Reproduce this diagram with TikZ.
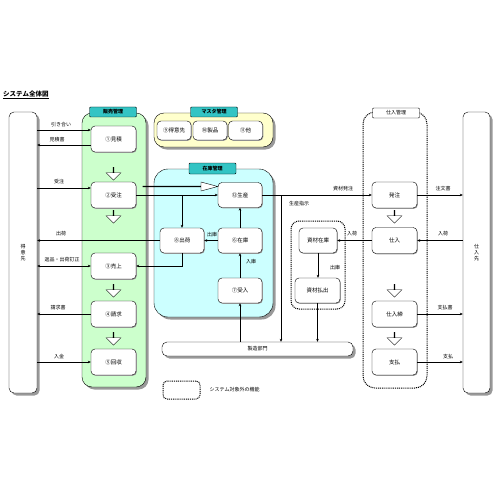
\documentclass[tikz,border=0pt]{standalone}
\usepackage{fontspec}
\setmainfont{Noto Sans CJK JP}
\usetikzlibrary{arrows.meta, shapes.arrows, shadows}
\definecolor{salesgreen}{HTML}{CCFFCC}
\definecolor{stockcyan}{HTML}{CCFFFF}
\definecolor{masteryellow}{HTML}{FFFFCC}
\definecolor{tabteal}{HTML}{33C4C4}

\begin{document}
\begin{tikzpicture}[
  x=1pt, y=-1pt,
  >={Stealth[length=3pt, width=2.6pt]},
  every node/.style={inner sep=1pt, font=\fontsize{5.5}{6.5}\selectfont},
  shade/.style={drop shadow={shadow xshift=#1, shadow yshift=-#1, fill=black!40, opacity=1}},
  grp/.style={draw, rounded corners=10pt, shade=2.5pt},
  outside/.style={draw, rounded corners=8pt, line width=1pt, dash pattern=on 1pt off 0.9pt},
  tab/.style={draw, fill=tabteal, rounded corners=1pt, minimum width=47pt, minimum height=10pt,
              inner sep=0pt, font=\bfseries\fontsize{5}{6}\selectfont},
  proc/.style={draw, fill=white, rounded corners=4pt, minimum width=45pt, minimum height=26pt,
               inner sep=0pt, shade=0.8pt},
  small/.style={proc, minimum width=34pt, minimum height=19pt},
  bar/.style={draw, fill=white, rounded corners=5pt, minimum width=28pt, minimum height=281pt,
              align=center, font=\fontsize{5}{6}\selectfont, shade=2.5pt},
  downarrow/.style={single arrow, draw, fill=white, rotate=-90, minimum height=13pt,
                    minimum width=15pt, single arrow head extend=3.5pt, inner sep=0pt},
  flow/.style={draw, line width=0.5pt, ->},
  lbl/.style={inner sep=0.5pt, font=\fontsize{5}{6}\selectfont}]

  \useasboundingbox (0,0) rectangle (500,500);

  % ---- title --------------------------------------------------------------
  \node[anchor=west, font=\bfseries\fontsize{6.5}{7.5}\selectfont] (title) at (2,95)
    {\underline{システム全体図}};

  % ---- groups -------------------------------------------------------------
  \node[grp, fill=salesgreen, minimum width=64pt, minimum height=274pt] (hanbai) at (114,250) {};
  \node[grp, fill=masteryellow, minimum width=119pt, minimum height=34pt] (masta) at (213.5,130) {};
  \node[grp, fill=stockcyan, rounded corners=14pt, minimum width=119pt, minimum height=148pt] (zaikokanri) at (213.5,243) {};
  \node[outside, rounded corners=12pt, minimum width=64pt, minimum height=276pt] (shiirekanri) at (395,250) {};
  \node[outside, minimum width=54pt, minimum height=88pt] (shizai) at (318,265) {};

  % group tabs
  \node[tab] (tHanbai) at (113,112)   {販売管理};
  \node[tab] (tMasta)  at (214,112)   {マスタ管理};
  \node[tab, minimum height=11pt] (tZaiko) at (212.5,168.5) {在庫管理};
  \node[tab, fill=white, font=\fontsize{5}{6}\selectfont] (tShiire) at (396,113) {仕入管理};

  % ---- outer parties ------------------------------------------------------
  \node[bar] (tokui)      at (23,252.5)  {得\\意\\先};
  \node[bar, minimum width=27pt] (shiiresaki) at (476.5,252.5) {仕\\入\\先};
  \node[bar, minimum width=191pt, minimum height=14pt] (seizo) at (257.5,349) {製造部門};

  % ---- 販売管理 -------------------------------------------------------------
  \node[proc] (mitsu)  at (113.5,139) {①見積};
  \node[proc] (juchu)  at (113.5,195) {②受注};
  \node[proc] (uriage) at (113.5,266) {③売上};
  \node[proc] (seikyu) at (113.5,314) {④請求};
  \node[proc] (kaishu) at (113.5,362) {⑤回収};
  \node[downarrow] (d1) at (113.5,173.5) {};
  \node[downarrow] (d2) at (113.5,216.5) {};
  \node[downarrow] (d3) at (113.5,290.5) {};
  \node[downarrow] (d4) at (113.5,338.5) {};

  % ---- マスタ管理 -----------------------------------------------------------
  \node[small] (mTokui)  at (174,130.5)   {⑨得意先};
  \node[small] (mSeihin) at (210,130.5)   {⑩製品};
  \node[small] (mHoka)   at (245.5,130.5) {⑪他};

  % ---- 在庫管理 -------------------------------------------------------------
  \node[proc, minimum width=44pt, minimum height=25pt] (seisan) at (240,195)   {⑫生産};
  \node[proc, minimum width=44pt, minimum height=25pt] (zaiko)  at (240,240.5) {⑥在庫};
  \node[proc, minimum width=44pt, minimum height=25pt] (shukka) at (182,240.5) {⑧出荷};
  \node[proc, minimum width=44pt, minimum height=25pt] (ukeire) at (240,290.5) {⑦受入};

  % hollow arrow from 受注 into 生産
  \node[single arrow, draw, fill=white, minimum height=75pt, minimum width=9pt,
        single arrow head extend=2pt, single arrow tip angle=30, inner sep=0pt] (big) at (179.5,186.5) {};

  % ---- 資材 ---------------------------------------------------------------
  \node[proc, minimum width=38pt, minimum height=25pt] (shizaizaiko) at (318,240.5)   {資材在庫};
  \node[proc, minimum height=25pt]                     (haraidashi)  at (317.5,290.5) {資材払出};

  % ---- 仕入管理 -------------------------------------------------------------
  \node[proc] (hatchu)   at (394.5,195)   {発注};
  \node[proc] (shiire)   at (394.5,240.5) {仕入};
  \node[proc] (shimebi)  at (394.5,314)   {仕入締};
  \node[proc] (shiharai) at (394.5,362)   {支払};
  \node[downarrow] (d5) at (394.5,216.5) {};
  \node[downarrow] (d6) at (394.5,290.5) {};
  \node[downarrow] (d7) at (394.5,338.5) {};

  % ---- connectors ---------------------------------------------------------
  % 得意先 side
  \draw[flow] ([yshift=9pt]tokui.east |- mitsu.west) -- ([yshift=9pt]mitsu.west);
  \draw[flow] ([yshift=-6pt]mitsu.west) -- ([yshift=-6pt]tokui.east |- mitsu.west);
  \draw[flow] ([yshift=7pt]tokui.east |- juchu.west) -- ([yshift=7pt]juchu.west);
  \draw[flow] (shukka.west) -- (tokui.east |- shukka.west);
  \draw[flow, <->] (tokui.east |- uriage.west) -- (uriage.west);
  \draw[flow] (seikyu.west) -- (tokui.east |- seikyu.west);
  \draw[flow] (tokui.east |- kaishu.west) -- (kaishu.west);
  % 受注 / 在庫
  \draw[flow] (juchu.east) -- (seisan.west);
  \draw[flow] (shukka.north |- juchu.east) -- (shukka.north);
  \draw[flow] (shukka.south) |- (uriage.east);
  \draw[flow] (zaiko.west) -- (shukka.east);
  \draw[flow] (zaiko.north) -- (seisan.south);
  \draw[flow] (ukeire.north) -- (zaiko.south);
  \draw[flow] (seizo.north -| ukeire.south) -- (ukeire.south);
  % 生産 / 仕入
  \coordinate (shiji) at (281,0);
  \draw[flow] (seisan.east) -- (hatchu.west);
  \draw[flow] (seisan.east -| shiji) -- (shiji |- seizo.north);
  \draw[flow] (hatchu.east) -- (shiiresaki.west |- hatchu.east);
  \draw[flow] (shiiresaki.west |- shiire.east) -- (shiire.east);
  \draw[flow] (shiire.west) -- (shizaizaiko.east);
  \draw[flow] (shizaizaiko.south) -- (haraidashi.north -| shizaizaiko.south);
  \draw[flow] (haraidashi.south) -- (haraidashi.south |- seizo.north);
  \draw[flow] (shimebi.east) -- (shiiresaki.west |- shimebi.east);
  \draw[flow] (shiharai.east) -- (shiiresaki.west |- shiharai.east);

  % ---- labels, as printed inside the picture ------------------------------
  \node[lbl] (lHikiai)  at (61,125)  {引き合い};
  \node[lbl] (lMitsu)   at (57,140)  {見積書};
  \node[lbl] (lJuchu)   at (59,182)  {受注};
  \node[lbl] (lShukka)  at (61,234)  {出荷};
  \node[lbl] (lHenpin)  at (62,260)  {返品・出荷訂正};
  \node[lbl] (lSeikyu)  at (58,308)  {請求書};
  \node[lbl] (lNyukin)  at (59,357)  {入金};
  \node[lbl] (lShukko)  at (212,235) {出庫};
  \node[lbl] (lNyuko)   at (251,262) {入庫};
  \node[lbl] (lHatchu)  at (343,189) {資材発注};
  \node[lbl] (lShiji)   at (299,204) {生産指示};
  \node[lbl] (lChumon)  at (443,189) {注文書};
  \node[lbl] (lNyuka)   at (443,234) {入荷};
  \node[lbl] (lNyuka2)  at (352,234) {入荷};
  \node[lbl] (lShukko2) at (335,268) {出庫};
  \node[lbl] (lShiharaisho) at (445,308) {支払書};
  \node[lbl] (lShiharai)    at (448,357) {支払};

  % ---- legend -------------------------------------------------------------
  \node[outside, rounded corners=4pt, minimum width=37pt, minimum height=18pt] (legend) at (181.5,390) {};
  \node[lbl, anchor=west] (lLegend) at (209,390) {システム対象外の機能};
\end{tikzpicture}
\end{document}
